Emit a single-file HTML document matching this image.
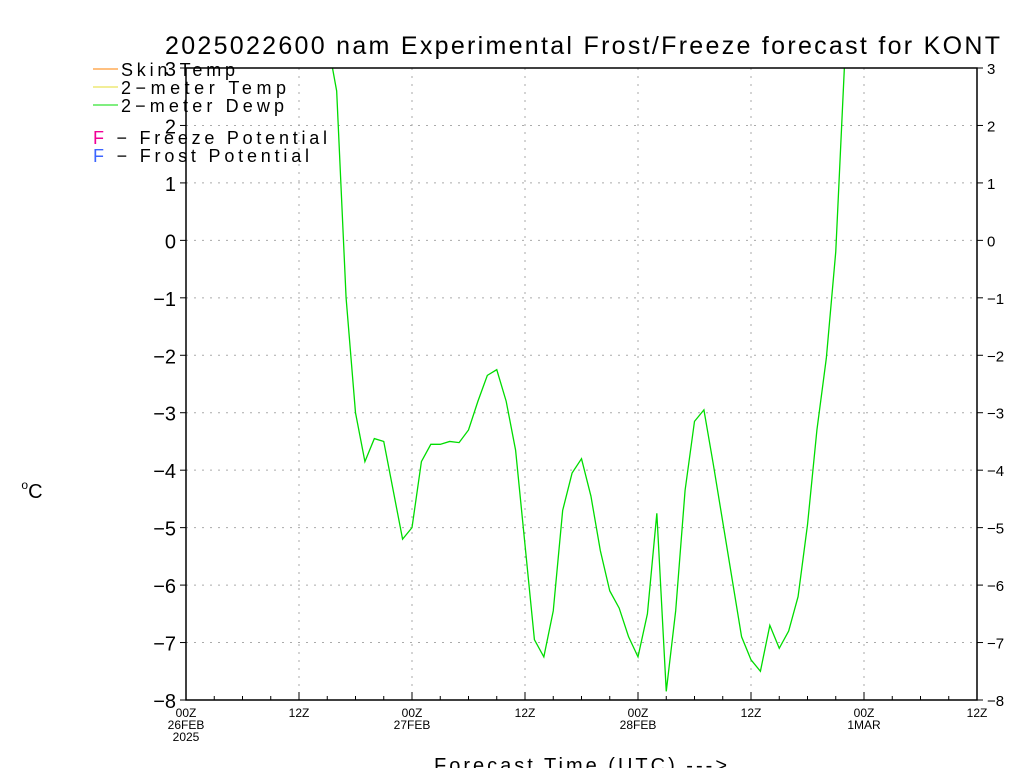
<!DOCTYPE html>
<html><head><meta charset="utf-8"><style>
body{margin:0;background:#fff;}
svg{display:block;font-family:"Liberation Sans",sans-serif;}
</style></head><body>
<svg id="chart" width="1024" height="768">
<text x="165" y="54" font-size="25" textLength="835" lengthAdjust="spacing" fill="#000">2025022600 nam Experimental Frost/Freeze forecast for KONT</text>
<g id="grid"></g>
<clipPath id="clip"><rect x="186" y="68" width="791" height="632"/></clipPath>
<g id="series" clip-path="url(#clip)"></g>
<rect x="186" y="68" width="791" height="632" fill="none" stroke="#000" stroke-width="1.5"/>
<g id="axes"></g>
<g font-size="18">
<line x1="93" y1="69" x2="118" y2="69" stroke="#ff8000"/>
<text x="121" y="76" textLength="114" lengthAdjust="spacing" fill="#000">Skin Temp</text>
<line x1="93" y1="87" x2="118" y2="87" stroke="#e6dc32"/>
<text x="121" y="94" textLength="165" lengthAdjust="spacing" fill="#000">2−meter Temp</text>
<line x1="93" y1="105" x2="118" y2="105" stroke="#00dc00"/>
<text x="121" y="112" textLength="163" lengthAdjust="spacing" fill="#000">2−meter Dewp</text>
<text x="93" y="144" textLength="234" lengthAdjust="spacing" fill="#000"><tspan fill="#f00096">F</tspan> − Freeze Potential</text>
<text x="93" y="162" textLength="216" lengthAdjust="spacing" fill="#000"><tspan fill="#3c64ff">F</tspan> − Frost Potential</text>
</g>
<text x="32" y="498" font-size="20" text-anchor="middle" fill="#000"><tspan font-size="12" dy="-9">o</tspan><tspan dy="9">C</tspan></text>
<text x="434" y="772" font-size="20" textLength="293" lengthAdjust="spacing" fill="#000">Forecast Time (UTC) ---&gt;</text>
</svg>
<script>
const hours=[15,16,17,18,19,20,21,22,23,24,25,26,27,28,29,30,31,32,33,34,35,36,37,38,39,40,41,42,43,44,45,46,47,48,49,50,51,52,53,54,55,56,57,58,59,60,61,62,63,64,65,66,67,68,69,70];
const dewp=[3.5,2.6,-1,-3,-3.85,-3.45,-3.5,-4.35,-5.2,-5.0,-3.85,-3.55,-3.55,-3.5,-3.52,-3.3,-2.8,-2.35,-2.25,-2.8,-3.65,-5.3,-6.95,-7.25,-6.45,-4.7,-4.05,-3.8,-4.45,-5.4,-6.1,-6.4,-6.9,-7.25,-6.5,-4.75,-7.85,-6.45,-4.35,-3.15,-2.95,-3.9,-4.9,-5.9,-6.9,-7.3,-7.5,-6.7,-7.1,-6.8,-6.2,-4.95,-3.3,-2.05,-0.2,3.3];
const yTicks=[-8,-7,-6,-5,-4,-3,-2,-1,0,1,2,3];
const xTickHours=[0,12,24,36,48,60,72,84];
const xTickLabels=[["00Z","26FEB","2025"],["12Z"],["00Z","27FEB"],["12Z"],["00Z","28FEB"],["12Z"],["00Z","1MAR"],["12Z"]];
const NS="http://www.w3.org/2000/svg";
const X0=186,X1=977,Y0=700,Y1=68,HMAX=84,VMIN=-8,VMAX=3;
function xs(h){return X0+(X1-X0)*h/HMAX;}
function ys(v){return Y0-(Y0-Y1)*(v-VMIN)/(VMAX-VMIN);}
function mk(tag,attrs,parent){const e=document.createElementNS(NS,tag);for(const k in attrs)e.setAttribute(k,attrs[k]);parent.appendChild(e);return e;}
const grid=document.getElementById('grid'),axes=document.getElementById('axes'),series=document.getElementById('series');
yTicks.forEach(v=>{
  const y=ys(v);
  if(v>VMIN&&v<VMAX){const g=mk('line',{x1:X0,x2:X1,y1:y,y2:y,stroke:'#aaa','stroke-dasharray':'2,6'},grid);
  
  }
  const t1=mk('line',{x1:X0-6,x2:X0,y1:y,y2:y,stroke:'#000'},axes);
  
  
  const t2=mk('line',{x1:X1,x2:X1+6,y1:y,y2:y,stroke:'#000'},axes);
  
  
  const lab=(v<0?'−':'')+Math.abs(v);
  const l=mk('text',{x:X0-10,y:y+8,'font-size':20,'text-anchor':'end',fill:'#000'},axes);l.textContent=lab;
  
  
  const r=mk('text',{x:X1+10,y:y+6,'font-size':15,fill:'#000'},axes);r.textContent=lab;
  
  
});
for(let h=3;h<HMAX;h+=3){
  const x=xs(h);const major=h%12===0;
  if(major){const g=mk('line',{x1:x,x2:x,y1:Y1,y2:Y0,stroke:'#aaa','stroke-dasharray':'2,6'},grid);
  
  }
  const t=mk('line',{x1:x,x2:x,y1:Y0,y2:Y0-(major?8:4),stroke:'#000'},axes);
  
  
}
xTickHours.forEach((h,i)=>{
  const x=xs(h);
  xTickLabels[i].forEach((s,j)=>{
    const t=mk('text',{x:x,y:717+j*12,'font-size':12,'text-anchor':'middle',fill:'#000'},axes);t.textContent=s;
    
    
  });
});
const pts=hours.map((h,i)=>xs(h)+','+ys(dewp[i])).join(' ');
const line=mk('polyline',{points:pts,fill:'none',stroke:'#00dc00','stroke-width':1.3},series);


</script>
</body></html>
